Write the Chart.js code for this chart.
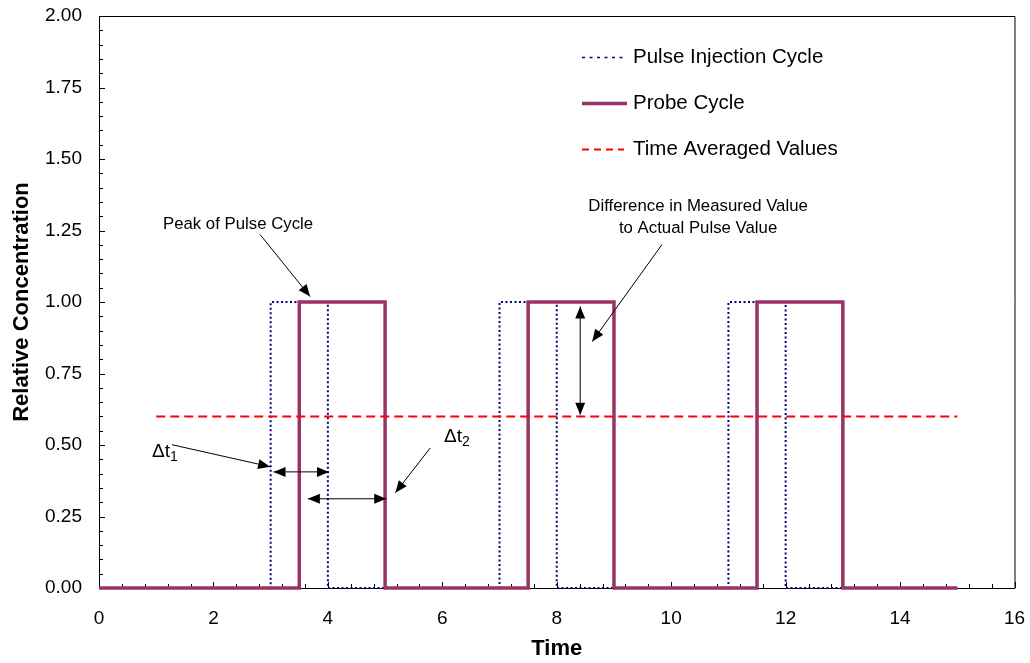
<!DOCTYPE html>
<html>
<head>
<meta charset="utf-8">
<script src="https://cdn.jsdelivr.net/npm/chart.js@4.4.1/dist/chart.umd.min.js"></script>
<style>
  html, body { margin: 0; padding: 0; background: #fff; }
  #wrap { width: 1030px; height: 663px; }
</style>
</head>
<body>
<div id="wrap"><canvas id="c" width="1030" height="663"></canvas></div>
<script>
// 脉冲注入周期 / 探头周期 / 时间平均值
const pulseT = [0, 3, 3, 4, 4, 7, 7, 8, 8, 11, 11, 12, 12, 15];
const pulseC = [0, 0, 1, 1, 0, 0, 1, 1, 0, 0, 1, 1, 0, 0];
const probeT = [0, 3.5, 3.5, 5, 5, 7.5, 7.5, 9, 9, 11.5, 11.5, 13, 13, 15];
const probeC = [0, 0, 1, 1, 0, 0, 1, 1, 0, 0, 1, 1, 0, 0];
const avgT = [1, 15];
const avgC = [0.6, 0.6];

const xTicks = [0, 2, 4, 6, 8, 10, 12, 14, 16];
const yTicks = [0, 0.25, 0.5, 0.75, 1, 1.25, 1.5, 1.75, 2];

// annotation arrows in data units: [x1, y1, x2, y2, headAtStart, headAtEnd]
const arrows = [
  [2.815, 1.236, 3.69, 1.019, false, true],
  [1.276, 0.501, 2.99, 0.424, false, true],
  [3.05, 0.406, 4.02, 0.406, true, true],
  [3.65, 0.312, 5.02, 0.312, true, true],
  [5.79, 0.49, 5.18, 0.333, false, true],
  [8.41, 0.984, 8.41, 0.606, true, true],
  [9.84, 1.201, 8.62, 0.862, false, true],
];
const notes = [
  ["Peak of Pulse Cycle", 2.43, 1.271],
  ["Difference in Measured Value", 10.47, 1.335],
  ["to Actual Pulse Value", 10.47, 1.257],
];
// Δt labels: [subscript, x, y(baseline)]
const deltas = [["1", 0.927, 0.459], ["2", 6.03, 0.512]];

const legendItems = ["Pulse Injection Cycle", "Probe Cycle", "Time Averaged Values"];

const pts = (xs, ys) => xs.map((x, i) => ({ x, y: ys[i] }));
const FONT = "'Liberation Sans', Arial, sans-serif";

const styles = [
  { borderColor: "#000080", borderWidth: 2, borderDash: [2, 2.5] },
  { borderColor: "#993366", borderWidth: 3.5, borderDash: [] },
  { borderColor: "#ff0000", borderWidth: 2, borderDash: [9, 5] },
];

function arrowHead(ctx, x1, y1, x2, y2) {
  const a = Math.atan2(y2 - y1, x2 - x1), L = 12, W = 5;
  ctx.beginPath();
  ctx.moveTo(x2, y2);
  ctx.lineTo(x2 - L * Math.cos(a) + W * Math.sin(a), y2 - L * Math.sin(a) - W * Math.cos(a));
  ctx.lineTo(x2 - L * Math.cos(a) - W * Math.sin(a), y2 - L * Math.sin(a) + W * Math.cos(a));
  ctx.closePath();
  ctx.fill();
}

const decor = {
  id: "decor",
  beforeDatasetsDraw(chart) {
    const { ctx, chartArea: a, scales: { x, y } } = chart;
    ctx.save();
    ctx.strokeStyle = "#000";
    ctx.lineWidth = 1;
    ctx.beginPath();
    ctx.moveTo(a.left + 0.5, a.top);
    ctx.lineTo(a.left + 0.5, a.bottom + 0.5);
    ctx.lineTo(a.right + 0.5, a.bottom + 0.5);
    ctx.lineTo(a.right + 0.5, a.top + 0.5);
    ctx.lineTo(a.left, a.top + 0.5);
    ctx.stroke();
    // inside ticks
    ctx.beginPath();
    for (let i = 0; i <= 40; i++) {
      const py = Math.round(y.getPixelForValue(i * 0.05)) + 0.5;
      ctx.moveTo(a.left, py);
      ctx.lineTo(a.left + (i % 5 === 0 ? 6 : 4), py);
    }
    for (let i = 0; i <= 40; i++) {
      const px = Math.round(x.getPixelForValue(i * 0.4)) + 0.5;
      ctx.moveTo(px, a.bottom);
      ctx.lineTo(px, a.bottom - (i % 5 === 0 ? 6 : 4));
    }
    ctx.stroke();
    ctx.restore();
  },
  afterDatasetsDraw(chart) {
    const { ctx, scales: { x, y } } = chart;
    ctx.save();
    ctx.fillStyle = "#000";
    ctx.strokeStyle = "#000";
    ctx.lineWidth = 1;
    for (const [ax, ay, bx, by, hs, he] of arrows) {
      const x1 = x.getPixelForValue(ax), y1 = y.getPixelForValue(ay);
      const x2 = x.getPixelForValue(bx), y2 = y.getPixelForValue(by);
      ctx.beginPath();
      ctx.moveTo(x1, y1);
      ctx.lineTo(x2, y2);
      ctx.stroke();
      if (he) arrowHead(ctx, x1, y1, x2, y2);
      if (hs) arrowHead(ctx, x2, y2, x1, y1);
    }
    ctx.font = "16.8px " + FONT;
    ctx.textAlign = "center";
    ctx.textBaseline = "middle";
    for (const [t, vx, vy] of notes) ctx.fillText(t, x.getPixelForValue(vx), y.getPixelForValue(vy));
    ctx.textAlign = "left";
    ctx.textBaseline = "alphabetic";
    for (const [s, vx, vy] of deltas) {
      const px = x.getPixelForValue(vx), py = y.getPixelForValue(vy);
      ctx.font = "19px " + FONT;
      ctx.fillText("\u0394t", px, py);
      const w = ctx.measureText("\u0394t").width;
      ctx.font = "14px " + FONT;
      ctx.fillText(s, px + w, py + 4);
    }
    // legend
    const lx = 582, ly = [57, 103, 149];
    legendItems.forEach((t, i) => {
      const st = styles[i];
      ctx.save();
      ctx.strokeStyle = st.borderColor;
      ctx.lineWidth = i === 0 ? 1.5 : st.borderWidth;
      ctx.setLineDash(i === 0 ? [3, 4.5] : i === 2 ? [7, 5] : []);
      ctx.beginPath();
      ctx.moveTo(lx, ly[i] + 0.5);
      ctx.lineTo(lx + (i === 1 ? 45 : 42), ly[i] + 0.5);
      ctx.stroke();
      ctx.restore();
      ctx.font = "20.5px " + FONT;
      ctx.textBaseline = "middle";
      ctx.fillText(t, 633, ly[i]);
    });
    ctx.restore();
  },
};

new Chart(document.getElementById("c"), {
  type: "line",
  data: {
    datasets: [
      { label: legendItems[0], data: pts(pulseT, pulseC), ...styles[0], order: 2 },
      { label: legendItems[1], data: pts(probeT, probeC), ...styles[1], order: 1 },
      { label: legendItems[2], data: pts(avgT, avgC), ...styles[2], order: 0 },
    ],
  },
  options: {
    responsive: false, animation: false,
    layout: { padding: { left: 0, top: 16, right: 15.5, bottom: 0 } },
    elements: { point: { radius: 0 }, line: { tension: 0, borderCapStyle: "butt" } },
    datasets: { line: { clip: 6, fill: false } },
    plugins: { legend: { display: false }, tooltip: { enabled: false } },
    scales: {
      x: {
        type: "linear", min: 0, max: 16,
        afterBuildTicks: s => { s.ticks = xTicks.map(v => ({ value: v })); },
        afterFit: s => { s.height = 75; s.paddingLeft = 0; s.paddingRight = 0; },
        grid: { display: false, drawTicks: false },
        border: { display: false },
        ticks: { color: "#000", font: { family: FONT, size: 19 }, padding: 19 },
        title: { display: true, text: "Time", color: "#000", font: { family: FONT, size: 22, weight: "bold" }, padding: { bottom: 1 } },
      },
      y: {
        type: "linear", min: 0, max: 2,
        afterBuildTicks: s => { s.ticks = yTicks.map(v => ({ value: v })); },
        afterFit: s => { s.width = 99; s.paddingTop = 0; s.paddingBottom = 0; },
        grid: { display: false, drawTicks: false },
        border: { display: false },
        ticks: { color: "#000", font: { family: FONT, size: 19 }, padding: 17, callback: v => v.toFixed(2) },
        title: { display: true, text: "Relative Concentration", color: "#000", font: { family: FONT, size: 22, weight: "bold" }, padding: { top: 9 } },
      },
    },
  },
  plugins: [decor],
});
</script>
</body>
</html>
